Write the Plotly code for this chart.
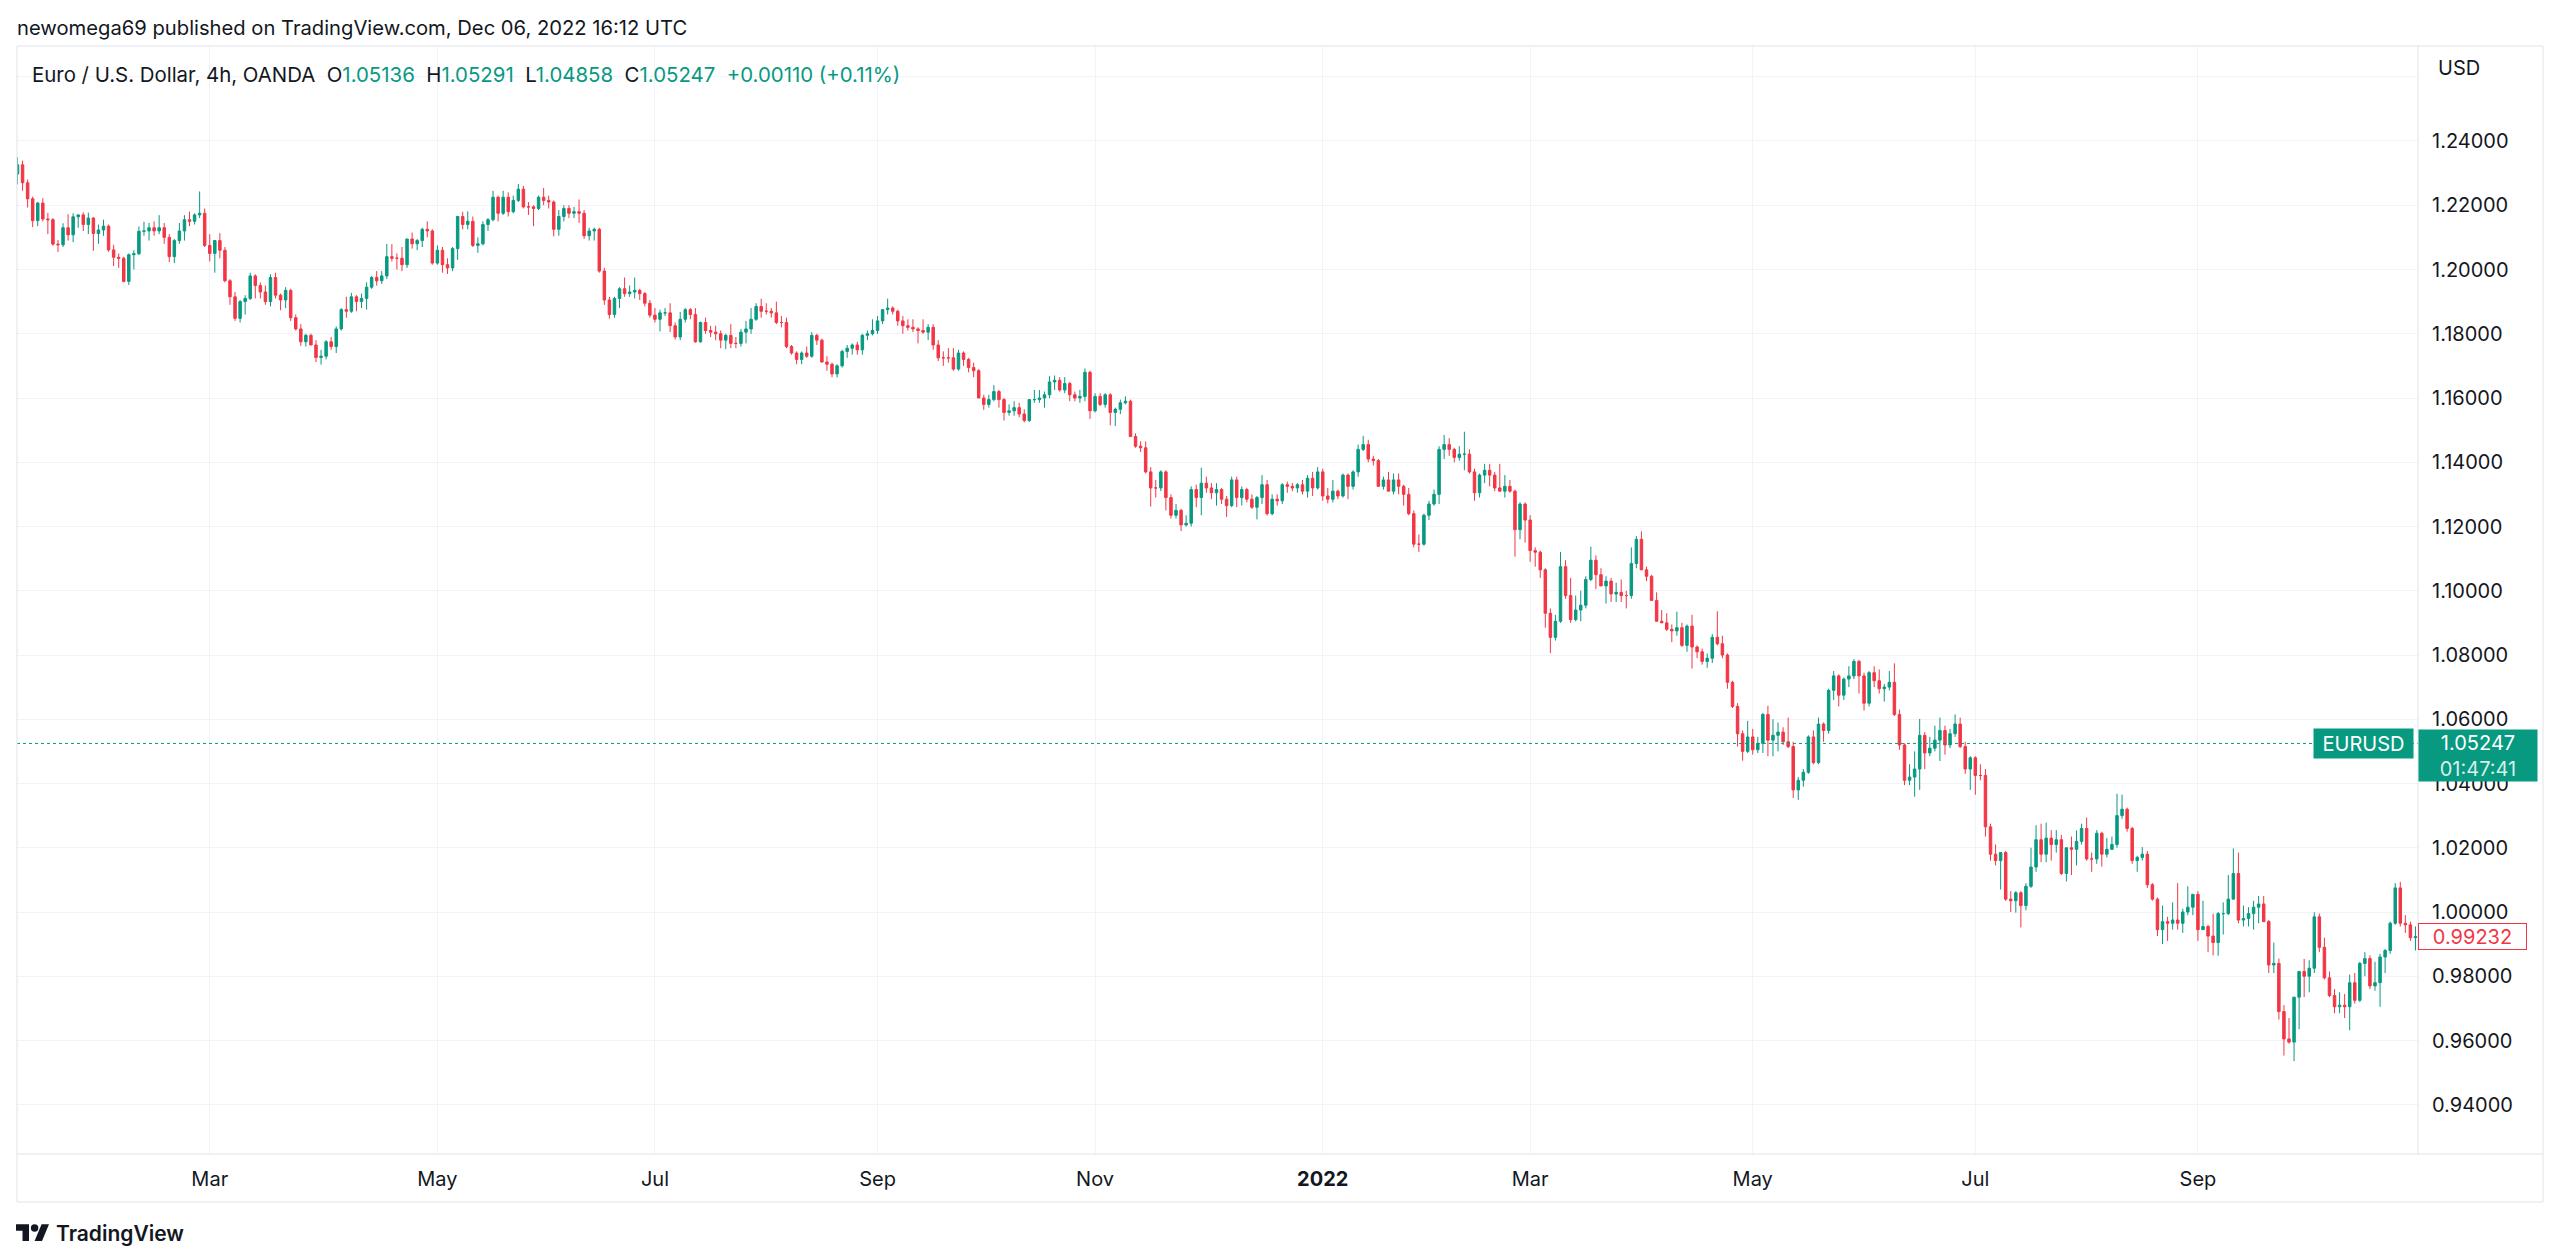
import pandas as pd
import plotly.graph_objects as go

# ---------------- data (daily candles) ----------------
OPEN = [
    1.2297, 1.2326, 1.2270,
    1.2220, 1.2152, 1.2207, 1.2157, 1.2155,
    1.2079, 1.2077, 1.2130, 1.2108, 1.2164,
    1.2170, 1.2140, 1.2160, 1.2112, 1.2123,
    1.2135, 1.2061, 1.2038, 1.2035, 1.1963,
    1.2046, 1.2049, 1.2119, 1.2120, 1.2130,
    1.2120, 1.2130, 1.2100, 1.2040, 1.2090,
    1.2120, 1.2155, 1.2150, 1.2170, 1.2175,
    1.2075, 1.2050, 1.2090, 1.2060, 1.1965,
    1.1915, 1.1848, 1.1900, 1.1910, 1.1980,
    1.1950, 1.1930, 1.1900, 1.1975, 1.1920,
    1.1905, 1.1935, 1.1850, 1.1815, 1.1775,
    1.1795, 1.1765, 1.1726, 1.1730, 1.1775,
    1.1760, 1.1815, 1.1875, 1.1870, 1.1915,
    1.1900, 1.1910, 1.1945, 1.1975, 1.1965,
    1.1980, 1.2040, 1.2035, 1.2035, 1.2015,
    1.2095, 1.2080, 1.2090, 1.2125, 1.2120,
    1.2020, 1.2060, 1.2015, 1.2005, 1.2065,
    1.2165, 1.2140, 1.2150, 1.2075, 1.2080,
    1.2140, 1.2155, 1.2225, 1.2175, 1.2225,
    1.2180, 1.2215, 1.2250, 1.2195, 1.2195,
    1.2190, 1.2225, 1.2215, 1.2210, 1.2125,
    1.2165, 1.2190, 1.2175, 1.2180, 1.2175,
    1.2105, 1.2120, 1.2125, 1.1995, 1.1905,
    1.1860, 1.1910, 1.1940, 1.1925, 1.1930,
    1.1935, 1.1925, 1.1895, 1.1858, 1.1845,
    1.1865, 1.1865, 1.1825, 1.1790, 1.1845,
    1.1875, 1.1860, 1.1775, 1.1835, 1.1810,
    1.1805, 1.1800, 1.1780, 1.1795, 1.1770,
    1.1770, 1.1805, 1.1815, 1.1845, 1.1885,
    1.1870, 1.1870, 1.1865, 1.1835, 1.1835,
    1.1760, 1.1740, 1.1720, 1.1740, 1.1730,
    1.1795, 1.1780, 1.1712, 1.1705, 1.1675,
    1.1700, 1.1745, 1.1755, 1.1765, 1.1750,
    1.1795, 1.1800, 1.1810, 1.1840, 1.1875,
    1.1880, 1.1870, 1.1840, 1.1825, 1.1820,
    1.1815, 1.1810, 1.1805, 1.1820, 1.1765,
    1.1725, 1.1725, 1.1725, 1.1690, 1.1740,
    1.1720, 1.1695, 1.1685, 1.1600, 1.1580,
    1.1595, 1.1620, 1.1595, 1.1555, 1.1560,
    1.1570, 1.1550, 1.1530, 1.1595, 1.1595,
    1.1600, 1.1610, 1.1650, 1.1655, 1.1625,
    1.1645, 1.1610, 1.1600, 1.1605, 1.1680,
    1.1560, 1.1605, 1.1580, 1.1610, 1.1555,
    1.1565, 1.1585, 1.1590, 1.1480, 1.1450,
    1.1445, 1.1370, 1.1320, 1.1320, 1.1370,
    1.1290, 1.1235, 1.1250, 1.1205, 1.1210,
    1.1315, 1.1290, 1.1335, 1.1320, 1.1305,
    1.1315, 1.1285, 1.1265, 1.1345, 1.1290,
    1.1315, 1.1285, 1.1260, 1.1290, 1.1330,
    1.1240, 1.1285, 1.1280, 1.1330, 1.1325,
    1.1320, 1.1330, 1.1310, 1.1350, 1.1320,
    1.1370, 1.1295, 1.1285, 1.1310, 1.1295,
    1.1360, 1.1325, 1.1370, 1.1440, 1.1455,
    1.1410, 1.1405, 1.1325, 1.1345, 1.1310,
    1.1345, 1.1325, 1.1300, 1.1240, 1.1145,
    1.1145, 1.1235, 1.1270, 1.1300, 1.1440,
    1.1455, 1.1440, 1.1415, 1.1425, 1.1425,
    1.1370, 1.1305, 1.1360, 1.1375, 1.1360,
    1.1320, 1.1310, 1.1325, 1.1310, 1.1190,
    1.1270, 1.1220, 1.1125, 1.1120, 1.1065,
    1.0930, 1.0855, 1.0905, 1.1075, 1.0985,
    1.0910, 1.0940, 1.0955, 1.1035, 1.1095,
    1.1050, 1.1015, 1.1030, 1.0990, 1.0995,
    1.0985, 1.0985, 1.1085, 1.1160, 1.1065,
    1.1045, 1.0970, 1.0905, 1.0900, 1.0880,
    1.0875, 1.0885, 1.0830, 1.0890, 1.0825,
    1.0810, 1.0780, 1.0790, 1.0855, 1.0835,
    1.0800, 1.0715, 1.0640, 1.0555, 1.0500,
    1.0545, 1.0505, 1.0525, 1.0615, 1.0535,
    1.0550, 1.0560, 1.0530, 1.0515, 1.0380,
    1.0410, 1.0435, 1.0545, 1.0465, 1.0585,
    1.0565, 1.0690, 1.0735, 1.0675, 1.0725,
    1.0735, 1.0780, 1.0735, 1.0650, 1.0745,
    1.0720, 1.0695, 1.0700, 1.0715, 1.0615,
    1.0520, 1.0410, 1.0420, 1.0445, 1.0550,
    1.0495, 1.0510, 1.0535, 1.0565, 1.0520,
    1.0555, 1.0585, 1.0515, 1.0445, 1.0480,
    1.0425, 1.0425, 1.0265, 1.0180, 1.0160,
    1.0185, 1.0040, 1.0035, 1.0060, 1.0020,
    1.0080, 1.0140, 1.0225, 1.0180, 1.0230,
    1.0210, 1.0225, 1.0120, 1.0200, 1.0195,
    1.0220, 1.0260, 1.0165, 1.0165, 1.0245,
    1.0180, 1.0195, 1.0210, 1.0300, 1.0320,
    1.0260, 1.0160, 1.0170, 1.0180, 1.0085,
    1.0040, 0.9945, 0.9970, 0.9965, 0.9975,
    0.9965, 1.0000, 1.0015, 1.0055, 0.9945,
    0.9955, 0.9925, 0.9905, 0.9995, 0.9995,
    1.0040, 1.0120, 0.9975, 0.9980, 0.9995,
    1.0015, 1.0025, 0.9970, 0.9835, 0.9840,
    0.9690, 0.9605, 0.9595, 0.9735, 0.9815,
    0.9800, 0.9825, 0.9985, 0.9890, 0.9795,
    0.9740, 0.9705, 0.9710, 0.9705, 0.9780,
    0.9725, 0.9840, 0.9855, 0.9770, 0.9780,
    0.9860, 0.9880, 0.9965, 1.0075, 0.9965,
    0.9960, 0.9920,
]

HIGH = [
    1.2349, 1.2339, 1.2280,
    1.2227, 1.2210, 1.2222, 1.2176, 1.2160,
    1.2092, 1.2144, 1.2172, 1.2175, 1.2171,
    1.2178, 1.2177, 1.2163, 1.2140, 1.2155,
    1.2140, 1.2077, 1.2050, 1.2040, 1.2050,
    1.2060, 1.2134, 1.2149, 1.2145, 1.2150,
    1.2169, 1.2145, 1.2110, 1.2095, 1.2145,
    1.2169, 1.2180, 1.2175, 1.2243, 1.2190,
    1.2110, 1.2090, 1.2113, 1.2070, 1.1970,
    1.1930, 1.1905, 1.1920, 1.1990, 1.1985,
    1.1960, 1.1950, 1.1985, 1.1990, 1.1925,
    1.1945, 1.1940, 1.1860, 1.1830, 1.1800,
    1.1800, 1.1780, 1.1750, 1.1780, 1.1790,
    1.1823, 1.1880, 1.1915, 1.1927, 1.1920,
    1.1925, 1.1960, 1.1980, 1.1995, 1.1995,
    1.2080, 1.2079, 1.2050, 1.2070, 1.2095,
    1.2115, 1.2095, 1.2130, 1.2150, 1.2125,
    1.2075, 1.2070, 1.2035, 1.2070, 1.2167,
    1.2180, 1.2181, 1.2165, 1.2100, 1.2150,
    1.2160, 1.2245, 1.2230, 1.2245, 1.2240,
    1.2230, 1.2266, 1.2260, 1.2210, 1.2200,
    1.2230, 1.2254, 1.2230, 1.2215, 1.2185,
    1.2200, 1.2200, 1.2195, 1.2218, 1.2185,
    1.2130, 1.2130, 1.2130, 1.2005, 1.1915,
    1.1915, 1.1945, 1.1975, 1.1950, 1.1975,
    1.1940, 1.1930, 1.1905, 1.1880, 1.1875,
    1.1880, 1.1895, 1.1835, 1.1868, 1.1880,
    1.1880, 1.1880, 1.1838, 1.1850, 1.1825,
    1.1825, 1.1810, 1.1800, 1.1830, 1.1790,
    1.1815, 1.1840, 1.1880, 1.1895, 1.1909,
    1.1895, 1.1880, 1.1900, 1.1855, 1.1850,
    1.1765, 1.1745, 1.1745, 1.1760, 1.1805,
    1.1800, 1.1785, 1.1730, 1.1710, 1.1705,
    1.1750, 1.1765, 1.1770, 1.1775, 1.1800,
    1.1810, 1.1845, 1.1855, 1.1875, 1.1909,
    1.1885, 1.1875, 1.1855, 1.1845, 1.1845,
    1.1820, 1.1845, 1.1830, 1.1830, 1.1780,
    1.1745, 1.1755, 1.1755, 1.1750, 1.1745,
    1.1725, 1.1710, 1.1690, 1.1610, 1.1610,
    1.1640, 1.1625, 1.1600, 1.1580, 1.1590,
    1.1585, 1.1565, 1.1595, 1.1625, 1.1625,
    1.1620, 1.1668, 1.1670, 1.1665, 1.1665,
    1.1650, 1.1620, 1.1625, 1.1692, 1.1685,
    1.1615, 1.1615, 1.1615, 1.1615, 1.1570,
    1.1595, 1.1605, 1.1595, 1.1490, 1.1465,
    1.1465, 1.1385, 1.1345, 1.1375, 1.1375,
    1.1300, 1.1270, 1.1255, 1.1235, 1.1325,
    1.1330, 1.1383, 1.1355, 1.1335, 1.1335,
    1.1320, 1.1295, 1.1355, 1.1355, 1.1325,
    1.1320, 1.1300, 1.1295, 1.1360, 1.1345,
    1.1300, 1.1300, 1.1335, 1.1340, 1.1335,
    1.1335, 1.1345, 1.1360, 1.1370, 1.1385,
    1.1380, 1.1320, 1.1345, 1.1315, 1.1365,
    1.1365, 1.1375, 1.1455, 1.1482, 1.1470,
    1.1420, 1.1410, 1.1355, 1.1370, 1.1365,
    1.1365, 1.1330, 1.1320, 1.1250, 1.1175,
    1.1240, 1.1280, 1.1315, 1.1450, 1.1485,
    1.1475, 1.1445, 1.1450, 1.1495, 1.1440,
    1.1380, 1.1365, 1.1395, 1.1395, 1.1370,
    1.1395, 1.1360, 1.1345, 1.1315, 1.1275,
    1.1275, 1.1235, 1.1135, 1.1125, 1.1070,
    1.0945, 1.0925, 1.1121, 1.1095, 1.1040,
    1.0985, 1.1000, 1.1045, 1.1137, 1.1110,
    1.1070, 1.1045, 1.1040, 1.1025, 1.1035,
    1.1000, 1.1135, 1.1170, 1.1185, 1.1075,
    1.1050, 1.0995, 1.0940, 1.0930, 1.0895,
    1.0935, 1.0900, 1.0895, 1.0925, 1.0830,
    1.0820, 1.0805, 1.0865, 1.0936, 1.0860,
    1.0805, 1.0720, 1.0650, 1.0565, 1.0595,
    1.0570, 1.0545, 1.0620, 1.0642, 1.0600,
    1.0590, 1.0575, 1.0605, 1.0530, 1.0420,
    1.0445, 1.0550, 1.0565, 1.0605, 1.0590,
    1.0695, 1.0750, 1.0740, 1.0730, 1.0765,
    1.0787, 1.0785, 1.0745, 1.0750, 1.0765,
    1.0755, 1.0710, 1.0750, 1.0774, 1.0630,
    1.0525, 1.0460, 1.0500, 1.0601, 1.0560,
    1.0545, 1.0580, 1.0605, 1.0580, 1.0570,
    1.0615, 1.0605, 1.0530, 1.0485, 1.0485,
    1.0460, 1.0445, 1.0275, 1.0210, 1.0185,
    1.0190, 1.0065, 1.0065, 1.0065, 1.0090,
    1.0200, 1.0270, 1.0275, 1.0278, 1.0255,
    1.0255, 1.0240, 1.0200, 1.0235, 1.0254,
    1.0275, 1.0294, 1.0185, 1.0255, 1.0250,
    1.0230, 1.0235, 1.0368, 1.0365, 1.0325,
    1.0265, 1.0175, 1.0202, 1.0190, 1.0090,
    1.0045, 1.0020, 0.9985, 1.0030, 1.0090,
    1.0010, 1.0080, 1.0055, 1.0065, 1.0035,
    0.9960, 0.9995, 1.0000, 1.0030, 1.0115,
    1.0198, 1.0185, 1.0020, 1.0015, 1.0035,
    1.0050, 1.0050, 0.9975, 0.9905, 0.9855,
    0.9710, 0.9670, 0.9735, 0.9815, 0.9854,
    0.9850, 0.9999, 0.9995, 0.9920, 0.9815,
    0.9760, 0.9750, 0.9745, 0.9805, 0.9810,
    0.9845, 0.9875, 0.9865, 0.9845, 0.9870,
    0.9885, 0.9970, 1.0090, 1.0094, 0.9990,
    0.9970, 0.9955,
]

LOW = [
    1.2265, 1.2245, 1.2193,
    1.2132, 1.2135, 1.2150, 1.2110, 1.2074,
    1.2054, 1.2070, 1.2090, 1.2085, 1.2130,
    1.2120, 1.2110, 1.2058, 1.2080, 1.2105,
    1.2055, 1.2011, 1.2005, 1.1960, 1.1952,
    1.2000, 1.2045, 1.2105, 1.2090, 1.2105,
    1.2110, 1.2080, 1.2023, 1.2020, 1.2080,
    1.2090, 1.2135, 1.2140, 1.2160, 1.2070,
    1.2025, 1.1990, 1.2035, 1.1960, 1.1890,
    1.1840, 1.1835, 1.1860, 1.1905, 1.1910,
    1.1910, 1.1890, 1.1885, 1.1910, 1.1873,
    1.1880, 1.1840, 1.1810, 1.1762, 1.1760,
    1.1765, 1.1712, 1.1704, 1.1720, 1.1750,
    1.1740, 1.1810, 1.1850, 1.1865, 1.1870,
    1.1880, 1.1875, 1.1940, 1.1950, 1.1955,
    1.1970, 1.2025, 1.2000, 1.1995, 1.2005,
    1.2065, 1.2060, 1.2070, 1.2100, 1.2015,
    1.2015, 1.1990, 1.1986, 1.1995, 1.2030,
    1.2125, 1.2125, 1.2070, 1.2052, 1.2075,
    1.2120, 1.2150, 1.2150, 1.2170, 1.2165,
    1.2175, 1.2210, 1.2190, 1.2170, 1.2135,
    1.2185, 1.2200, 1.2190, 1.2103, 1.2105,
    1.2150, 1.2160, 1.2160, 1.2145, 1.2095,
    1.2090, 1.2090, 1.1990, 1.1890, 1.1847,
    1.1850, 1.1880, 1.1915, 1.1915, 1.1910,
    1.1905, 1.1885, 1.1850, 1.1835, 1.1807,
    1.1855, 1.1805, 1.1782, 1.1780, 1.1835,
    1.1845, 1.1772, 1.1772, 1.1800, 1.1790,
    1.1780, 1.1755, 1.1752, 1.1755, 1.1755,
    1.1760, 1.1770, 1.1800, 1.1840, 1.1850,
    1.1860, 1.1850, 1.1830, 1.1820, 1.1755,
    1.1735, 1.1705, 1.1705, 1.1725, 1.1725,
    1.1765, 1.1710, 1.1685, 1.1665, 1.1664,
    1.1695, 1.1725, 1.1735, 1.1735, 1.1735,
    1.1780, 1.1795, 1.1800, 1.1830, 1.1860,
    1.1860, 1.1825, 1.1800, 1.1810, 1.1805,
    1.1770, 1.1800, 1.1780, 1.1750, 1.1715,
    1.1700, 1.1710, 1.1685, 1.1685, 1.1700,
    1.1680, 1.1665, 1.1600, 1.1563, 1.1570,
    1.1590, 1.1570, 1.1530, 1.1545, 1.1545,
    1.1540, 1.1524, 1.1525, 1.1585, 1.1585,
    1.1570, 1.1600, 1.1625, 1.1620, 1.1615,
    1.1590, 1.1590, 1.1585, 1.1590, 1.1535,
    1.1555, 1.1575, 1.1570, 1.1515, 1.1513,
    1.1550, 1.1580, 1.1480, 1.1445, 1.1432,
    1.1365, 1.1262, 1.1290, 1.1310, 1.1250,
    1.1225, 1.1225, 1.1186, 1.1200, 1.1200,
    1.1260, 1.1235, 1.1305, 1.1285, 1.1265,
    1.1270, 1.1230, 1.1260, 1.1260, 1.1265,
    1.1275, 1.1255, 1.1222, 1.1270, 1.1234,
    1.1235, 1.1265, 1.1270, 1.1305, 1.1310,
    1.1305, 1.1300, 1.1290, 1.1295, 1.1315,
    1.1280, 1.1272, 1.1275, 1.1285, 1.1290,
    1.1285, 1.1315, 1.1355, 1.1435, 1.1400,
    1.1390, 1.1325, 1.1315, 1.1310, 1.1300,
    1.1300, 1.1265, 1.1235, 1.1135, 1.1121,
    1.1140, 1.1220, 1.1265, 1.1270, 1.1410,
    1.1420, 1.1400, 1.1405, 1.1375, 1.1365,
    1.1280, 1.1290, 1.1335, 1.1325, 1.1310,
    1.1310, 1.1290, 1.1305, 1.1106, 1.1160,
    1.1150, 1.1090, 1.1075, 1.1040, 1.0885,
    1.0806, 1.0845, 1.0900, 1.0975, 1.0900,
    1.0905, 1.0905, 1.0945, 1.1030, 1.1005,
    1.1015, 1.0960, 1.0965, 1.0965, 1.0965,
    1.0945, 1.0975, 1.1070, 1.1065, 1.1030,
    1.0970, 1.0905, 1.0900, 1.0875, 1.0840,
    1.0860, 1.0825, 1.0810, 1.0758, 1.0790,
    1.0770, 1.0760, 1.0775, 1.0830, 1.0790,
    1.0695, 1.0635, 1.0515, 1.0471, 1.0495,
    1.0490, 1.0495, 1.0495, 1.0485, 1.0485,
    1.0500, 1.0520, 1.0510, 1.0355, 1.0349,
    1.0390, 1.0430, 1.0460, 1.0460, 1.0530,
    1.0555, 1.0660, 1.0640, 1.0660, 1.0700,
    1.0725, 1.0680, 1.0627, 1.0640, 1.0700,
    1.0680, 1.0655, 1.0690, 1.0610, 1.0505,
    1.0395, 1.0395, 1.0359, 1.0380, 1.0445,
    1.0485, 1.0500, 1.0470, 1.0490, 1.0510,
    1.0545, 1.0510, 1.0430, 1.0380, 1.0365,
    1.0410, 1.0235, 1.0160, 1.0145, 1.0070,
    1.0035, 1.0000, 0.9998, 0.9952, 1.0005,
    1.0075, 1.0125, 1.0155, 1.0155, 1.0160,
    1.0185, 1.0115, 1.0095, 1.0115, 1.0145,
    1.0210, 1.0160, 1.0125, 1.0150, 1.0141,
    1.0170, 1.0195, 1.0200, 1.0290, 1.0250,
    1.0150, 1.0125, 1.0160, 1.0075, 1.0035,
    0.9925, 0.9900, 0.9910, 0.9945, 0.9945,
    0.9935, 0.9990, 0.9990, 0.9910, 0.9945,
    0.9875, 0.9865, 0.9864, 0.9930, 0.9990,
    1.0040, 0.9965, 0.9955, 0.9955, 0.9945,
    0.9965, 0.9970, 0.9810, 0.9810, 0.9665,
    0.9553, 0.9590, 0.9536, 0.9635, 0.9735,
    0.9750, 0.9810, 0.9875, 0.9790, 0.9735,
    0.9685, 0.9685, 0.9670, 0.9632, 0.9715,
    0.9720, 0.9800, 0.9760, 0.9755, 0.9705,
    0.9810, 0.9870, 0.9960, 0.9955, 0.9935,
    0.9910, 0.9880,
]

CLOSE = [
    1.2326, 1.2270, 1.2220,
    1.2152, 1.2207, 1.2157, 1.2155, 1.2079,
    1.2077, 1.2130, 1.2108, 1.2164, 1.2170,
    1.2140, 1.2160, 1.2112, 1.2123, 1.2135,
    1.2061, 1.2038, 1.2035, 1.1963, 1.2046,
    1.2049, 1.2119, 1.2120, 1.2130, 1.2120,
    1.2130, 1.2100, 1.2040, 1.2090, 1.2120,
    1.2155, 1.2150, 1.2170, 1.2175, 1.2075,
    1.2050, 1.2090, 1.2060, 1.1965, 1.1915,
    1.1848, 1.1900, 1.1910, 1.1980, 1.1950,
    1.1930, 1.1900, 1.1975, 1.1920, 1.1905,
    1.1935, 1.1850, 1.1815, 1.1775, 1.1795,
    1.1765, 1.1726, 1.1730, 1.1775, 1.1760,
    1.1815, 1.1875, 1.1870, 1.1915, 1.1900,
    1.1910, 1.1945, 1.1975, 1.1965, 1.1980,
    1.2040, 1.2035, 1.2035, 1.2015, 1.2095,
    1.2080, 1.2090, 1.2125, 1.2120, 1.2020,
    1.2060, 1.2015, 1.2005, 1.2065, 1.2165,
    1.2140, 1.2150, 1.2075, 1.2080, 1.2140,
    1.2155, 1.2225, 1.2175, 1.2225, 1.2180,
    1.2215, 1.2250, 1.2195, 1.2195, 1.2190,
    1.2225, 1.2215, 1.2210, 1.2125, 1.2165,
    1.2190, 1.2175, 1.2180, 1.2175, 1.2105,
    1.2120, 1.2125, 1.1995, 1.1905, 1.1860,
    1.1910, 1.1940, 1.1925, 1.1930, 1.1935,
    1.1925, 1.1895, 1.1858, 1.1845, 1.1865,
    1.1865, 1.1825, 1.1790, 1.1845, 1.1875,
    1.1860, 1.1775, 1.1835, 1.1810, 1.1805,
    1.1800, 1.1780, 1.1795, 1.1770, 1.1770,
    1.1805, 1.1815, 1.1845, 1.1885, 1.1870,
    1.1870, 1.1865, 1.1835, 1.1835, 1.1760,
    1.1740, 1.1720, 1.1740, 1.1730, 1.1795,
    1.1780, 1.1712, 1.1705, 1.1675, 1.1700,
    1.1745, 1.1755, 1.1765, 1.1750, 1.1795,
    1.1800, 1.1810, 1.1840, 1.1875, 1.1880,
    1.1870, 1.1840, 1.1825, 1.1820, 1.1815,
    1.1810, 1.1805, 1.1820, 1.1765, 1.1725,
    1.1725, 1.1725, 1.1690, 1.1740, 1.1720,
    1.1695, 1.1685, 1.1600, 1.1580, 1.1595,
    1.1620, 1.1595, 1.1555, 1.1560, 1.1570,
    1.1550, 1.1530, 1.1595, 1.1595, 1.1600,
    1.1610, 1.1650, 1.1655, 1.1625, 1.1645,
    1.1610, 1.1600, 1.1605, 1.1680, 1.1560,
    1.1605, 1.1580, 1.1610, 1.1555, 1.1565,
    1.1585, 1.1590, 1.1480, 1.1450, 1.1445,
    1.1370, 1.1320, 1.1320, 1.1370, 1.1290,
    1.1235, 1.1250, 1.1205, 1.1210, 1.1315,
    1.1290, 1.1335, 1.1320, 1.1305, 1.1315,
    1.1285, 1.1265, 1.1345, 1.1290, 1.1315,
    1.1285, 1.1260, 1.1290, 1.1330, 1.1240,
    1.1285, 1.1280, 1.1330, 1.1325, 1.1320,
    1.1330, 1.1310, 1.1350, 1.1320, 1.1370,
    1.1295, 1.1285, 1.1310, 1.1295, 1.1360,
    1.1325, 1.1370, 1.1440, 1.1455, 1.1410,
    1.1405, 1.1325, 1.1345, 1.1310, 1.1345,
    1.1325, 1.1300, 1.1240, 1.1145, 1.1145,
    1.1235, 1.1270, 1.1300, 1.1440, 1.1455,
    1.1440, 1.1415, 1.1425, 1.1425, 1.1370,
    1.1305, 1.1360, 1.1375, 1.1360, 1.1320,
    1.1310, 1.1325, 1.1310, 1.1190, 1.1270,
    1.1220, 1.1125, 1.1120, 1.1065, 1.0930,
    1.0855, 1.0905, 1.1075, 1.0985, 1.0910,
    1.0940, 1.0955, 1.1035, 1.1095, 1.1050,
    1.1015, 1.1030, 1.0990, 1.0995, 1.0985,
    1.0985, 1.1085, 1.1160, 1.1065, 1.1045,
    1.0970, 1.0905, 1.0900, 1.0880, 1.0875,
    1.0885, 1.0830, 1.0890, 1.0825, 1.0810,
    1.0780, 1.0790, 1.0855, 1.0835, 1.0800,
    1.0715, 1.0640, 1.0555, 1.0500, 1.0545,
    1.0505, 1.0525, 1.0615, 1.0535, 1.0550,
    1.0560, 1.0530, 1.0515, 1.0380, 1.0410,
    1.0435, 1.0545, 1.0465, 1.0585, 1.0565,
    1.0690, 1.0735, 1.0675, 1.0725, 1.0735,
    1.0780, 1.0735, 1.0650, 1.0745, 1.0720,
    1.0695, 1.0700, 1.0715, 1.0615, 1.0520,
    1.0410, 1.0420, 1.0445, 1.0550, 1.0495,
    1.0510, 1.0535, 1.0565, 1.0520, 1.0555,
    1.0585, 1.0515, 1.0445, 1.0480, 1.0425,
    1.0425, 1.0265, 1.0180, 1.0160, 1.0185,
    1.0040, 1.0035, 1.0060, 1.0020, 1.0080,
    1.0140, 1.0225, 1.0180, 1.0230, 1.0210,
    1.0225, 1.0120, 1.0200, 1.0195, 1.0220,
    1.0260, 1.0165, 1.0165, 1.0245, 1.0180,
    1.0195, 1.0210, 1.0300, 1.0320, 1.0260,
    1.0160, 1.0170, 1.0180, 1.0085, 1.0040,
    0.9945, 0.9970, 0.9965, 0.9975, 0.9965,
    1.0000, 1.0015, 1.0055, 0.9945, 0.9955,
    0.9925, 0.9905, 0.9995, 0.9995, 1.0040,
    1.0120, 0.9975, 0.9980, 0.9995, 1.0015,
    1.0025, 0.9970, 0.9835, 0.9840, 0.9690,
    0.9605, 0.9595, 0.9735, 0.9815, 0.9800,
    0.9825, 0.9985, 0.9890, 0.9795, 0.9740,
    0.9705, 0.9710, 0.9705, 0.9780, 0.9725,
    0.9840, 0.9855, 0.9770, 0.9780, 0.9860,
    0.9880, 0.9965, 1.0075, 0.9965, 0.9960,
    0.9920, 0.99232,
]

FIRST_DAY = "2021-01-06"
TICK_MONTHS = ["2021-03", "2021-05", "2021-07", "2021-09", "2021-11",
               "2022-01", "2022-03", "2022-05", "2022-07", "2022-09"]
TICK_TEXT = ["Mar", "May", "Jul", "Sep", "Nov",
             "<b>2022</b>", "Mar", "May", "Jul", "Sep"]
PRICE_TICKS = [0.94, 0.96, 0.98, 1.00, 1.02, 1.04, 1.06, 1.08,
               1.10, 1.12, 1.14, 1.16, 1.18, 1.20, 1.22, 1.24]
TOP_GRID = 1.26
Y_RANGE = [0.92467, 1.26957]

HEADER = "newomega69 published on TradingView.com, Dec 06, 2022 16:12 UTC"
SYMBOL = "Euro / U.S. Dollar, 4h, OANDA"
CUR_OHLC = [1.05136, 1.05291, 1.04858, 1.05247]
CUR_CHANGE = 0.00110
CUR_CHANGE_PCT = 0.11
COUNTDOWN = "01:47:41"
TICKER = "EURUSD"
CURRENCY = "USD"

# ---------------- style ----------------
GREEN = "#089981"
RED = "#f23645"
TEXT = "#131722"
GRID = "#f0f3fa"
BORDER = "#e0e3eb"
FONT = "Inter"

W, H = 2560, 1260
PL, PR, PT, PB = 17, 2418, 46, 1154
FR, FB = 2543, 1202


def fx(px):
    return (px - PL) / (PR - PL)


def fy(py):
    return (PB - py) / (PB - PT)


assert len(OPEN) == len(HIGH) == len(LOW) == len(CLOSE)
DATES = [d.strftime("%Y-%m-%d") for d in pd.bdate_range(FIRST_DAY, periods=len(CLOSE))]
TICK_VALS = [next(d for d in DATES if d.startswith(m)) for m in TICK_MONTHS]

fig = go.Figure(go.Candlestick(
    x=DATES, open=OPEN, high=HIGH, low=LOW, close=CLOSE,
    increasing=dict(line=dict(color=GREEN, width=1), fillcolor=GREEN),
    decreasing=dict(line=dict(color=RED, width=1), fillcolor=RED),
    whiskerwidth=0, hoverinfo="skip",
))

shapes = []
# top grid line (label hidden behind the currency caption)
shapes.append(dict(type="line", xref="paper", yref="y", x0=0, x1=1,
                   y0=TOP_GRID, y1=TOP_GRID, line=dict(color=GRID, width=1),
                   layer="below"))
# current price dotted line
shapes.append(dict(type="line", xref="paper", yref="y", x0=0, x1=1,
                   y0=CUR_OHLC[3], y1=CUR_OHLC[3],
                   line=dict(color=GREEN, width=1, dash="dot")))


def seg(x0, y0, x1, y1):
    return dict(type="line", xref="paper", yref="paper",
                x0=fx(x0), y0=fy(y0), x1=fx(x1), y1=fy(y1),
                line=dict(color=BORDER, width=1))


shapes += [seg(PL, PT, FR, PT), seg(PL, FB, FR, FB), seg(PL, PT, PL, FB),
           seg(FR, PT, FR, FB), seg(PR, PT, PR, PB), seg(PL, PB, FR, PB)]

# TradingView logo
LOGO_X, LOGO_Y, LOGO_S = 16, 1220.5, 0.93
LOGO_POLYS = [[(14, 22), (7, 22), (7, 11), (0, 11), (0, 4), (14, 4)],
              [(28, 22), (20, 22), (27.5, 4), (35.5, 4)]]
for poly in LOGO_POLYS:
    pts = [(fx(LOGO_X + LOGO_S * a), fy(LOGO_Y + LOGO_S * b)) for a, b in poly]
    path = "M " + " L ".join(f"{u:.6f},{v:.6f}" for u, v in pts) + " Z"
    shapes.append(dict(type="path", xref="paper", yref="paper", path=path,
                       fillcolor=TEXT, line=dict(width=0)))
shapes.append(dict(type="circle", xref="paper", yref="paper",
                   x0=fx(LOGO_X + LOGO_S * 16), x1=fx(LOGO_X + LOGO_S * 24),
                   y0=fy(LOGO_Y + LOGO_S * 4), y1=fy(LOGO_Y + LOGO_S * 12),
                   fillcolor=TEXT, line=dict(width=0)))

NB = "\u00a0\u00a0"


def g(s):
    return f"<span style='color:{GREEN}'>{s}</span>"


legend = (SYMBOL + NB +
          "O" + g(f"{CUR_OHLC[0]:.5f}") + NB +
          "H" + g(f"{CUR_OHLC[1]:.5f}") + NB +
          "L" + g(f"{CUR_OHLC[2]:.5f}") + NB +
          "C" + g(f"{CUR_OHLC[3]:.5f}") + NB +
          g(f"+{CUR_CHANGE:.5f} (+{CUR_CHANGE_PCT:.2f}%)"))

annotations = [
    dict(text=HEADER, xref="paper", yref="paper", x=fx(15), y=fy(28),
         xanchor="left", yanchor="middle", showarrow=False,
         font=dict(size=20.2, color=TEXT)),
    dict(text=legend, xref="paper", yref="paper", x=fx(30), y=fy(74),
         xanchor="left", yanchor="middle", showarrow=False,
         font=dict(size=20.4, color=TEXT)),
    dict(text=CURRENCY, xref="paper", yref="paper", x=fx(2436), y=fy(68),
         xanchor="left", yanchor="middle", showarrow=False,
         font=dict(size=20, color=TEXT)),
    dict(text=TICKER, xref="paper", yref="y", x=fx(2414), y=CUR_OHLC[3],
         xanchor="right", yanchor="middle", showarrow=False,
         bgcolor=GREEN, borderpad=2, width=95, height=25,
         font=dict(size=20, color="white")),
    dict(text=f"{CUR_OHLC[3]:.5f}<br><span style='color:rgba(255,255,255,0.85)'>{COUNTDOWN}</span>",
         xref="paper", yref="y", x=fx(2418), y=CUR_OHLC[3],
         xanchor="left", yanchor="top", yshift=14, showarrow=False,
         bgcolor=GREEN, borderpad=2, width=114, height=47,
         font=dict(size=20, color="white")),
    dict(text=f"{CLOSE[-1]:.5f}", xref="paper", yref="y", x=fx(2418), y=CLOSE[-1],
         xanchor="left", yanchor="middle", showarrow=False,
         bgcolor="white", bordercolor=RED, borderwidth=1, borderpad=1,
         width=105, height=23, font=dict(size=20, color=RED)),
    dict(text="TradingView", xref="paper", yref="paper", x=fx(54), y=fy(1233),
         xanchor="left", yanchor="middle", showarrow=False,
         font=dict(size=21, color=TEXT, weight=600)),
]

fig.update_layout(
    width=W, height=H,
    margin=dict(l=PL, r=W - PR, t=PT, b=H - PB, pad=0),
    paper_bgcolor="white", plot_bgcolor="white",
    showlegend=False, hovermode=False,
    font=dict(family=FONT, color=TEXT, size=20),
    xaxis=dict(type="category", range=[-0.1, len(CLOSE) - 0.5],
               rangeslider=dict(visible=False),
               tickmode="array", tickvals=TICK_VALS, ticktext=TICK_TEXT,
               showgrid=True, gridcolor=GRID, gridwidth=1,
               showline=False, zeroline=False, ticks="",
               ticklabelstandoff=11, tickfont=dict(size=20, color=TEXT)),
    yaxis=dict(side="right", range=Y_RANGE, tickmode="array",
               tickvals=PRICE_TICKS, tickformat=".5f",
               showgrid=True, gridcolor=GRID, gridwidth=1,
               showline=False, zeroline=False, ticks="",
               ticklabelstandoff=13, tickfont=dict(size=20, color=TEXT)),
    shapes=shapes, annotations=annotations,
)

fig.write_html("out.html", config={"displayModeBar": False},
               post_script="document.body.style.margin='0';")
